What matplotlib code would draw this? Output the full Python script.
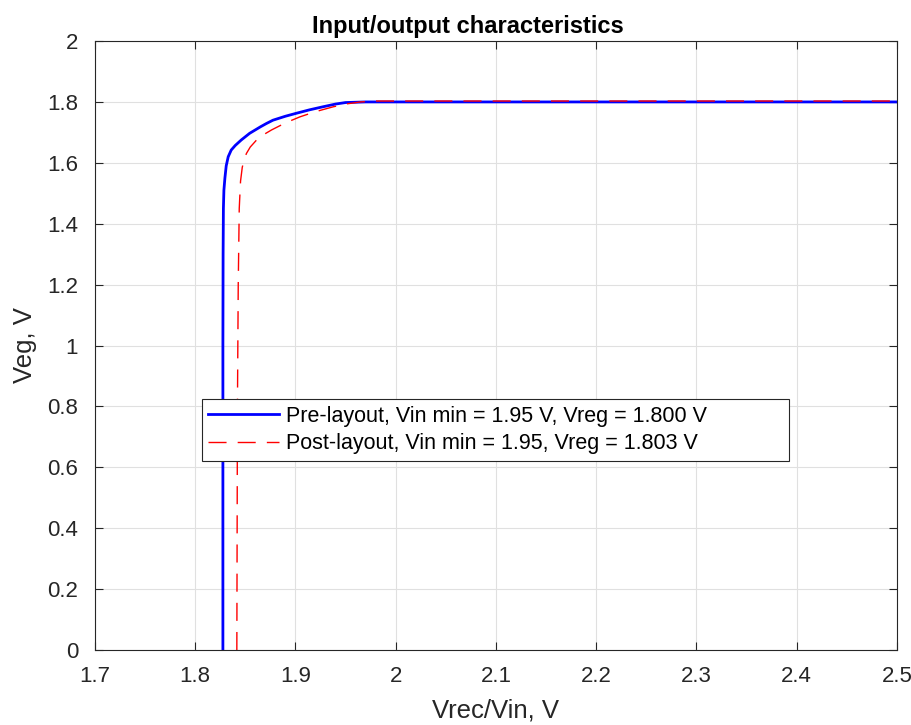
import matplotlib
matplotlib.use("Agg")
import matplotlib.pyplot as plt

plt.rcParams['font.family'] = ['Liberation Sans', 'DejaVu Sans']

# Pre-layout curve
pre_x = [1.8277, 1.8277, 1.8279, 1.8282, 1.8287, 1.8297, 1.8310, 1.8330, 1.8360,
         1.8400, 1.8460, 1.8544, 1.8650, 1.8710, 1.8776, 1.8900, 1.9012, 1.9140,
         1.9274, 1.9400, 1.9500, 1.9700, 2.5]
pre_y = [0.0, 1.0, 1.30, 1.45, 1.51, 1.55, 1.59, 1.62, 1.642,
         1.657, 1.675, 1.697, 1.718, 1.729, 1.740, 1.753, 1.763, 1.774,
         1.784, 1.793, 1.798, 1.800, 1.800]

# Post-layout curve
post_x = [1.8416, 1.8422, 1.8430, 1.8440, 1.8453, 1.8470, 1.8490, 1.8512, 1.8550,
          1.8613, 1.8680, 1.8762, 1.8900, 1.9045, 1.9200, 1.9377, 1.9520, 1.9650,
          1.9800, 2.5]
post_y = [0.0, 0.8, 1.2, 1.45, 1.54, 1.585, 1.612, 1.631, 1.652,
          1.675, 1.692, 1.708, 1.731, 1.751, 1.768, 1.784, 1.794, 1.800,
          1.803, 1.803]

pre_label = "Pre-layout, Vin min = 1.95 V, Vreg = 1.800 V"
post_label = "Post-layout, Vin min = 1.95, Vreg = 1.803 V"

fig = plt.figure(figsize=(9.12, 7.25), dpi=100)
ax = fig.add_axes([0.104, 0.1034, 0.8796, 0.840])

ax.plot(pre_x, pre_y, color='#0000ff', linewidth=2.0, label=pre_label)
ax.plot(post_x, post_y, color='#ff0000', linewidth=1.0, dashes=(13, 8), label=post_label)

ax.set_xlim(1.7, 2.5)
ax.set_ylim(0, 2)
ax.set_xticks([1.7, 1.8, 1.9, 2.0, 2.1, 2.2, 2.3, 2.4, 2.5])
ax.set_xticklabels(['1.7', '1.8', '1.9', '2', '2.1', '2.2', '2.3', '2.4', '2.5'])
ax.set_yticks([0, 0.2, 0.4, 0.6, 0.8, 1.0, 1.2, 1.4, 1.6, 1.8, 2.0])
ax.set_yticklabels(['0', '0.2', '0.4', '0.6', '0.8', '1', '1.2', '1.4', '1.6', '1.8', '2'])

ax.grid(True, color='#e0e0e0', linewidth=0.8)
ax.set_axisbelow(True)
ax.tick_params(direction='in', top=True, right=True, labelsize=16, colors='#262626', length=5.5)
ax.tick_params(axis='y', pad=12)
ax.tick_params(axis='x', pad=11.5)
for s in ax.spines.values():
    s.set_color('#262626')
    s.set_linewidth(0.8)

ax.set_xlabel('Vrec/Vin, V', fontsize=18.5, color='#262626', labelpad=8)
ax.set_ylabel('Veg, V', fontsize=18.5, color='#262626', labelpad=7)
ax.set_title('Input/output characteristics', fontsize=17, fontweight='bold', pad=6, x=0.465)

leg = ax.legend(loc='upper left', bbox_to_anchor=(0.1334, 0.0, 0.732, 0.412),
                mode='expand', fontsize=15.5,
                frameon=True, fancybox=False, framealpha=1, edgecolor='#262626',
                borderpad=0.3, handlelength=3.3, handletextpad=0.3, labelspacing=0.3,
                borderaxespad=0)
leg.get_frame().set_linewidth(0.8)

fig.savefig('out.png', dpi=100)
